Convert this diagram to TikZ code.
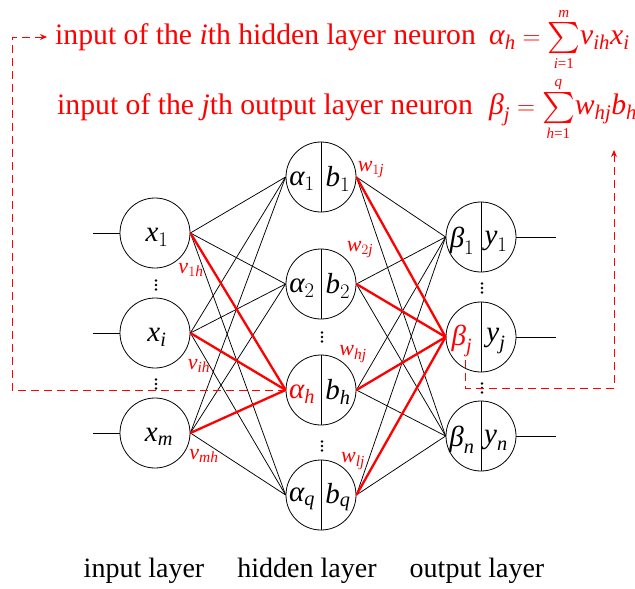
\documentclass[tikz,border=0pt]{standalone}
\usepackage{amsmath}
\usepackage{fontspec}
\setmainfont{Liberation Serif}
\usetikzlibrary{arrows.meta}
\definecolor{hotred}{RGB}{255,0,0}
\newcommand\mv[1]{\textit{#1}}
\newcommand\lmt[1]{\text{\fontsize{15}{15}\selectfont #1}}
\newcommand\bigsum{\mathop{\vcenter{\hbox{\scalebox{1.25}{$\textstyle\sum$}}}}\limits}
\begin{document}
\begin{tikzpicture}[x=1pt,y=-1pt,
  neuron/.style={circle,draw,line width=0.8pt,minimum size=70pt,inner sep=0pt},
  conn/.style={line width=0.75pt},
  hot/.style={line width=2.3pt,hotred},
  lbl/.style={font=\fontsize{29}{31}\selectfont,inner sep=0pt},
  wlbl/.style={font=\fontsize{22}{24}\selectfont,text=hotred,inner sep=0pt},
  title/.style={font=\fontsize{29.7}{31}\selectfont,text=hotred,inner sep=0pt,anchor=base west},
  caption/.style={font=\fontsize{28}{30}\selectfont,inner sep=0pt,anchor=base},
  guide/.style={hotred,line width=1pt,dash pattern=on 8pt off 5pt},
  threedots/.pic={\foreach \k in {-4.5,0,4.5} \fill (0,\k) circle (1.3pt);}
]
\useasboundingbox (0,0) rectangle (635,589);

% neurons
\node[neuron] (x1) at (155,233) {};
\node[neuron] (xi) at (155,333) {};
\node[neuron] (xm) at (155,433) {};
\node[neuron] (h1) at (321,177) {};
\node[neuron] (h2) at (321,284) {};
\node[neuron] (hh) at (321,390) {};
\node[neuron] (hq) at (321,495) {};
\node[neuron] (o1) at (481,237) {};
\node[neuron] (oj) at (481,337) {};
\node[neuron] (on) at (481,436) {};

\foreach \n in {h1,h2,hh,hq,o1,oj,on}
  \draw[conn] (\n.north) -- (\n.south);

% connections
\foreach \s in {x1,xi,xm}
  \foreach \t in {h1,h2,hh,hq}
    \draw[conn] (\s.east) -- (\t.west);
\foreach \s in {h1,h2,hh,hq}
  \foreach \t in {o1,oj,on}
    \draw[conn] (\s.east) -- (\t.west);
\foreach \s in {x1,xi,xm}
  \draw[hot] (\s.east) -- (hh.west);
\foreach \s in {h1,h2,hh,hq}
  \draw[hot] (\s.east) -- (oj.west);

% in / out stubs
\coordinate (in1) at (93,233);
\coordinate (ini) at (93,333);
\coordinate (inm) at (93,433);
\coordinate (out1) at (556,237);
\coordinate (outj) at (556,337);
\coordinate (outn) at (556,436);
\draw[conn] (in1) -- (x1.west);
\draw[conn] (ini) -- (xi.west);
\draw[conn] (inm) -- (xm.west);
\draw[conn] (o1.east) -- (out1);
\draw[conn] (oj.east) -- (outj);
\draw[conn] (on.east) -- (outn);

% neuron labels
\node[lbl] (lx1) at (157,237) {$\mv{x}_{1}$};
\node[lbl] (lxi) at (157,337) {$\mv{x}_{\mv{i}}$};
\node[lbl] (lxm) at (159,437) {$\mv{x}_{\mv{m}}$};
\node[lbl] (la1) at (302,181) {$\mv{α}_{1}$};
\node[lbl] (la2) at (302,288) {$\mv{α}_{2}$};
\node[lbl,text=hotred] (lah) at (302,394) {$\mv{α}_{\mv{h}}$};
\node[lbl] (laq) at (302,499) {$\mv{α}_{\mv{q}}$};
\node[lbl] (lb1) at (338,179) {$\mv{b}_{1}$};
\node[lbl] (lb2) at (338,286) {$\mv{b}_{2}$};
\node[lbl] (lbh) at (338,392) {$\mv{b}_{\mv{h}}$};
\node[lbl] (lbq) at (338,497) {$\mv{b}_{\mv{q}}$};
\node[lbl] (lbe1) at (462,241) {$\mv{β}_{1}$};
\node[lbl,text=hotred] (lbej) at (462,341) {$\mv{β}_{\mv{j}}$};
\node[lbl] (lben) at (462,440) {$\mv{β}_{\mv{n}}$};
\node[lbl] (ly1) at (496,241) {$\mv{y}_{1}$};
\node[lbl] (lyj) at (496,341) {$\mv{y}_{\mv{j}}$};
\node[lbl] (lyn) at (496,440) {$\mv{y}_{\mv{n}}$};

% ellipses
\pic at (156,285) {threedots};
\pic at (156,384) {threedots};
\pic at (322,337) {threedots};
\pic at (322,446) {threedots};
\pic at (482,288) {threedots};
\pic at (482,388) {threedots};

% weight labels
\node[wlbl] (wv1) at (191,270) {$\mv{v}_{1\mv{h}}$};
\node[wlbl] (wvi) at (199,366) {$\mv{v}_{\mv{ih}}$};
\node[wlbl] (wvm) at (204,456) {$\mv{v}_{\mv{mh}}$};
\node[wlbl] (ww1) at (371,170) {$\mv{w}_{1\mv{j}}$};
\node[wlbl] (ww2) at (360,250) {$\mv{w}_{2\mv{j}}$};
\node[wlbl] (wwh) at (353,354) {$\mv{w}_{\mv{hj}}$};
\node[wlbl] (wwl) at (353,461) {$\mv{w}_{\mv{lj}}$};

% titles
\node[title] (t1) at (55,44) {input of the \textit{i}th hidden layer neuron};
\node[title] (t2) at (57,114) {input of the \textit{j}th output layer neuron};
\node[title] (f1) at (489,44) {$\mv{α}_{\mv{h}}=\bigsum_{\lmt{\textit{i}=1}}^{\lmt{\textit{m}}}\mkern-3mu\mv{v}_{\mv{ih}}\mv{x}_{\mv{i}}$};
\node[title] (f2) at (489,114) {$\mv{β}_{\mv{j}}=\bigsum_{\lmt{\textit{h}=1}}^{\lmt{\textit{q}}}\mkern-3mu\mv{w}_{\mv{hj}}\mv{b}_{\mv{h}}$};

% dashed guides
\coordinate (gl1) at (12,390);
\coordinate (gl2) at (12,37);
\coordinate (gl3) at (47,37);
\draw[guide,-{Stealth[length=7pt,width=6pt]}] (hh.west) -- (gl1) -- (gl2) -- (gl3);
\coordinate (gr0) at (465,360);
\coordinate (gr1) at (465,388);
\coordinate (gr2) at (614,388);
\coordinate (gr3) at (614,150);
\draw[guide,-{Stealth[length=7pt,width=6pt]}] (gr0) -- (gr1) -- (gr2) -- (gr3);

% captions
\node[caption] (cin) at (144,577) {input layer};
\node[caption] (chid) at (307,577) {hidden layer};
\node[caption] (cout) at (477,577) {output layer};
\end{tikzpicture}
\end{document}
